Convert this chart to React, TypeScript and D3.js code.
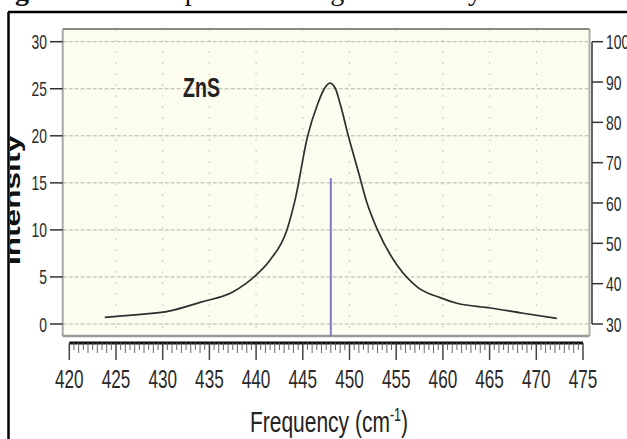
import React from "react";
import * as d3 from "d3";

// ---- data ----
const freq = [423.8, 427, 430.8, 434, 437.5, 440, 441.5, 443.3, 444.2, 445.5, 446.6, 447.3, 447.9, 448.5, 449.0, 449.9, 451, 451.8, 453.0, 455.2, 457.3, 459.7, 461.5, 465.1, 468.6, 472.2];
const intensity = [0.7, 0.96, 1.4, 2.3, 3.4, 5.2, 6.8, 10, 13.3, 19.9, 23.4, 25.0, 25.6, 25.0, 23.4, 19.9, 16.0, 13.1, 10.0, 6.1, 3.9, 2.8, 2.2, 1.7, 1.14, 0.6];
const stickFreq = [448];
const stickValue = [15.5];
const xTicks = [420, 425, 430, 435, 440, 445, 450, 455, 460, 465, 470, 475];
const yLeftTicks = [0, 5, 10, 15, 20, 25, 30];
const yRightTicks = [30, 40, 50, 60, 70, 80, 90, 100];
const xGrid = [425, 430, 435, 440, 445, 450, 455, 460, 465, 470];
const sampleLabel = "ZnS";
const xTitle = "Frequency (cm";
const xTitleSup = "-1";
const yTitle = "Intensity";
const captionBold = "Figure 3:";
const captionRest = " FTIR spectrum using DFT theory";

const W = 627;
const H = 439;
const SX = 0.66;
const SANS = "'Liberation Sans', Arial, sans-serif";

export default function App() {
  const x = d3.scaleLinear().domain([420, 475]).range([69.3, 583]);
  const yL = d3.scaleLinear().domain([0, 30]).range([324, 41.7]);
  const yR = d3.scaleLinear().domain([30, 100]).range([324, 41.7]);
  const box = { l: 62.7, r: 589.5, t: 29, b: 336 };

  const line = d3
    .line<number>()
    .x((_, i) => x(freq[i]))
    .y((d) => yL(d))
    .curve(d3.curveMonotoneX);

  const minor = d3.range(420, 475.01, 0.5);

  return (
    <svg
      width={W}
      height={H}
      style={{ position: "fixed", left: 0, top: 0, background: "#fff" }}
      fontFamily={SANS}
    >
      <defs>
        <clipPath id="lblclip">
          <rect x={10} y={0} width={W} height={H} />
        </clipPath>
      </defs>
      <rect x={0} y={0} width={W} height={H} fill="#fff" />
      {/* caption (cropped) */}
      <text x={-10} y={0} fontFamily="'Liberation Serif', 'Times New Roman', serif" fontSize={28} fill="#111">
        <tspan fontWeight="bold">{captionBold}</tspan>
        {captionRest}
      </text>

      {/* plot box */}
      <rect x={box.l} y={box.t} width={box.r - box.l} height={box.b - box.t} fill="#fcfcef" />
      {yLeftTicks.map((v) => (
        <line key={"hg" + v} x1={box.l} x2={box.r} y1={yL(v)} y2={yL(v)} stroke="#b5b5b0" strokeWidth={1} strokeDasharray="4,2" />
      ))}
      {xGrid.map((v) => (
        <line key={"vg" + v} x1={x(v)} x2={x(v)} y1={box.t} y2={box.b} stroke="#c9c9c2" strokeWidth={1} strokeDasharray="2,9" />
      ))}
      <line x1={box.l} x2={box.l} y1={box.t} y2={box.b} stroke="#a8a8a8" strokeWidth={2} />
      <line x1={box.r} x2={box.r} y1={box.t} y2={box.b} stroke="#b0b0b0" strokeWidth={2} />
      <line x1={box.l} x2={box.r} y1={box.b} y2={box.b} stroke="#9a9a9a" strokeWidth={2.5} />
      <line x1={box.l} x2={box.r} y1={box.t} y2={box.t} stroke="#8a8a8a" strokeWidth={2} />

      {/* stick */}
      {stickFreq.map((f, i) => (
        <line key={"st" + i} x1={x(f)} x2={x(f)} y1={box.b} y2={yL(stickValue[i])} stroke="#7b7bc8" strokeWidth={2} />
      ))}

      {/* curve */}
      <path d={line(intensity) || ""} fill="none" stroke="#2e2e2e" strokeWidth={1.7} />

      {/* sample label */}
      <text transform={`translate(183,97) scale(0.7,1)`} fontSize={28} fontWeight="bold" fill="#222">
        {sampleLabel}
      </text>

      {/* left axis */}
      {yLeftTicks.map((v) => (
        <g key={"yl" + v}>
          <line x1={50} x2={box.l} y1={yL(v)} y2={yL(v)} stroke="#333" strokeWidth={1.5} />
          <text transform={`translate(47,${yL(v) + 7.5}) scale(${SX},1)`} textAnchor="end" fontSize={21} fill="#2a2a2a">
            {v}
          </text>
        </g>
      ))}

      {/* right axis */}
      <line x1={592} x2={592} y1={yR(30)} y2={yR(100)} stroke="#333" strokeWidth={1.5} />
      {yRightTicks.map((v) => (
        <g key={"yr" + v}>
          <line x1={592} x2={603} y1={yR(v)} y2={yR(v)} stroke="#333" strokeWidth={1.5} />
          <text transform={`translate(606,${yR(v) + 7.5}) scale(${SX},1)`} textAnchor="start" fontSize={21} fill="#2a2a2a">
            {v}
          </text>
        </g>
      ))}

      {/* bottom axis */}
      <line x1={x(420)} x2={x(475)} y1={343} y2={343} stroke="#111" strokeWidth={3} />
      {minor.map((v) => {
        const isMajor = Math.abs(v % 5) < 1e-6;
        const isInt = Math.abs(v % 1) < 1e-6;
        const len = isMajor ? 17 : isInt ? 10 : 7;
        return (
          <line key={"mt" + v} x1={x(v)} x2={x(v)} y1={343} y2={343 + len} stroke={isMajor ? "#444" : "#666"} strokeWidth={isMajor ? 1.5 : 1} />
        );
      })}
      {xTicks.map((v) => (
        <text key={"xt" + v} transform={`translate(${x(v)},388) scale(${SX},1)`} textAnchor="middle" fontSize={26} fill="#2a2a2a">
          {v}
        </text>
      ))}

      {/* axis titles */}
      <text transform="translate(329,432) scale(0.7,1)" textAnchor="middle" fontSize={30} fill="#222">
        {xTitle}
        <tspan dy={-11} fontSize={18}>{xTitleSup}</tspan>
        <tspan dy={11}>)</tspan>
      </text>
      <g clipPath="url(#lblclip)">
        <text
          transform="translate(20,200) rotate(-90)"
          textAnchor="middle"
          fontSize={22}
          fontWeight="bold"
          fill="#111"
          textLength={130}
          lengthAdjust="spacingAndGlyphs"
        >
          {yTitle}
        </text>
      </g>

      {/* outer frame */}
      <line x1={8} x2={W} y1={12} y2={12} stroke="#000" strokeWidth={2.5} />
      <line x1={8.5} x2={8.5} y1={12} y2={H} stroke="#000" strokeWidth={2.5} />
    </svg>
  );
}
